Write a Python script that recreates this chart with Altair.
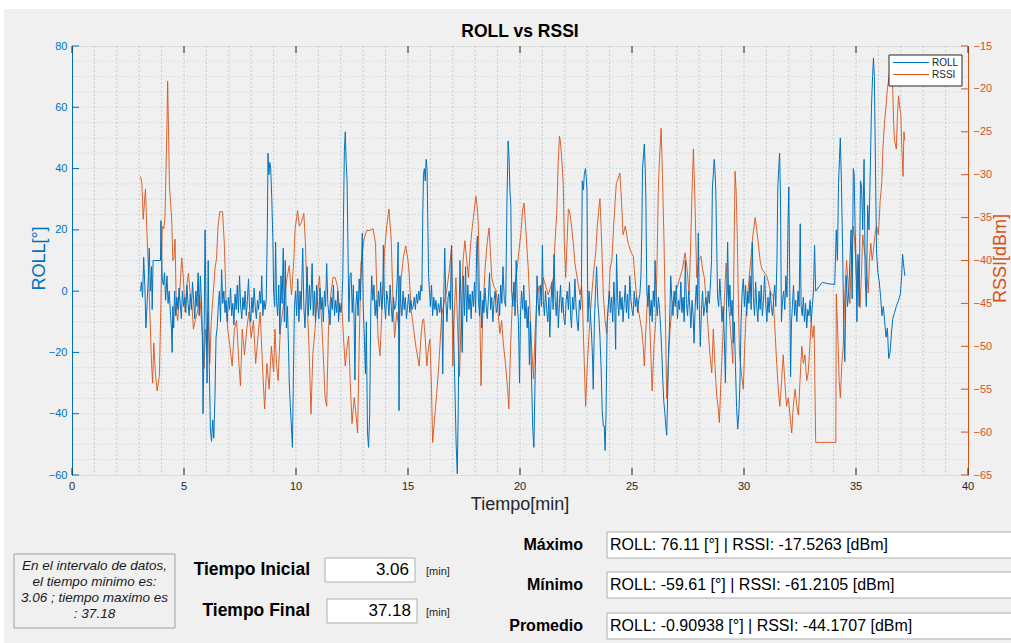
import altair as alt
import pandas as pd

BLUE = "#0072BD"
ORANGE = "#D95319"
FONT = "Liberation Sans"

# ---------------- data ----------------
roll_points = [
    (3.06,0),(3.1,3),(3.15,-2),(3.2,11),(3.25,2),(3.3,-12),(3.36,-3),(3.41,5),(3.45,14),(3.5,0),(3.55,8),(3.58,-6),(3.62,10),(3.95,10),(3.97,23),(4.0,12),(4.03,4),(4.08,2),(4.13,6),(4.18,-3),(4.24,5),(4.29,-4),(4.34,0),(4.4,-8),(4.44,-12),(4.47,-20),(4.5,-5),(4.54,-12),(4.58,0),(4.63,-8),(4.68,-2),
    (4.73,-6),(4.78,1),(4.83,-4),(4.88,-9),(4.93,0),(4.98,-5),(5.03,-2),(5.08,-7),(5.13,2),(5.18,-4),(5.23,-8),(5.28,-1),(5.33,-6),(5.38,3),(5.43,-3),(5.48,-9),(5.53,0),(5.58,-5),(5.63,6),(5.68,-8),(5.73,5),(5.78,-3),
    (5.82,-15),(5.85,-40),(5.89,-20),(5.94,20),(5.98,-5),(6.03,-30),(6.08,10),(6.13,-25),(6.18,-45),(6.23,-49),(6.28,-42),(6.33,-48),(6.38,-35),(6.43,-15),(6.48,-12),(6.53,-5),(6.58,0),(6.63,-10),(6.68,7),(6.73,-4),(6.78,0),
    (6.83,-7),(6.88,-3),(6.93,-10),(6.98,-2),(7.03,-6),(7.08,1),(7.13,-8),(7.18,-4),(7.23,-11),(7.28,-1),(7.33,-6),(7.38,2),(7.43,-7),(7.48,5),(7.53,-5),(7.58,-9),(7.63,-2),(7.68,-6),(7.73,0),(7.78,-8),(7.83,-3),(7.88,4),(7.93,-6),(7.98,-10),(8.03,-2),(8.08,-7),(8.13,1),(8.18,-5),(8.23,-9),(8.28,-3),(8.33,-6),(8.38,0),(8.43,-4),(8.47,5),(8.52,-8),(8.57,-3),(8.62,-6),(8.67,-3),
    (8.72,20),(8.75,45),(8.79,38),(8.83,42),(8.87,40),(8.92,30),(8.97,16),(9.0,0),(9.05,-5),(9.09,16),(9.13,-3),(9.18,-8),
    (9.23,2),(9.28,-14),(9.33,5),(9.38,-4),(9.43,14),(9.48,-10),(9.52,10),(9.57,-12),(9.62,-5),(9.67,-20),(9.7,-30),(9.75,-38),(9.8,-45),(9.84,-51),(9.88,-30),(9.93,-5),(9.98,0),(10.03,-8),(10.08,4),(10.13,-10),(10.18,0),(10.23,-6),(10.3,14),(10.35,-5),(10.4,-12),(10.45,-2),(10.5,8),(10.55,-8),(10.6,2),(10.65,-6),(10.72,9),(10.77,-8),(10.82,0),(10.87,-10),(10.92,2),(10.97,-5),(11.02,-9),(11.07,1),(11.12,-6),(11.17,-2),(11.22,-10),(11.27,0),(11.32,-5),(11.37,9),(11.42,-4),(11.47,-8),(11.52,-11),(11.57,-2),(11.62,-6),(11.67,2),(11.72,-8),(11.77,-3),(11.82,-7),(11.87,0),(11.9,-10),(11.95,-4),(12.0,-7),(12.04,-5),
    (12.09,5),(12.12,24),(12.16,46),(12.2,52),(12.24,42),(12.28,36),(12.32,15),(12.36,-10),(12.41,5),(12.46,6),(12.51,-7),(12.56,2),(12.6,-12),(12.63,-29),(12.67,-5),(12.72,0),(12.77,-8),(12.82,4),(12.87,-3),(12.92,8),(12.96,19),(13.0,-5),(13.05,-15),(13.1,-27),(13.14,-10),(13.19,-46),(13.24,-51),(13.29,-40),(13.34,-5),(13.38,5),(13.43,-3),(13.48,2),(13.53,-8),
    (13.58,-3),(13.63,-9),(13.68,0),(13.73,-5),(13.78,3),(13.83,-6),(13.88,-1),(13.9,15),(13.95,-4),(14.0,-9),(14.05,0),(14.1,-3),(14.15,-8),(14.2,2),(14.25,-5),(14.3,-10),(14.35,-2),(14.4,-6),(14.45,-5),(14.52,4),(14.56,16),(14.6,-39),(14.64,5),(14.68,-4),(14.73,-8),(14.78,0),(14.83,-6),(14.88,-2),(14.93,-9),(14.98,-5),(15.03,-1),(15.08,-7),(15.13,-3),(15.18,-6),(15.23,-5),(15.28,-2),(15.33,-6),(15.38,-1),(15.43,-4),(15.48,0),(15.53,-3),(15.58,2),(15.62,0),
    (15.66,25),(15.69,38),(15.73,40),(15.77,36),(15.81,43),(15.85,40),(15.89,20),(15.92,5),(15.96,0),(16.0,-5),(16.05,2),(16.1,-8),(16.15,-2),(16.2,-6),(16.25,-3),(16.3,-8),(16.36,-4),(16.42,-7),(16.47,-2),(16.52,-10),(16.55,-27),(16.59,-5),(16.64,14),(16.69,-3),(16.74,-10),(16.79,-2),(16.84,0),(16.89,-6),(16.94,15),(16.99,-5),(17.04,-15),(17.09,-30),(17.15,-50),(17.2,-59.61),(17.24,-40),(17.28,-10),(17.32,10),(17.37,-5),(17.42,-20),(17.47,5),(17.52,-8),(17.57,8),(17.62,-10),(17.67,2),(17.72,-6),(17.77,-1),(17.82,-9),(17.87,0),(17.92,-5),(17.97,3),(18.02,-7),(18.07,15),(18.1,18),(18.14,-2),(18.19,-8),(18.24,0),(18.29,-12),(18.34,-3),(18.39,-7),(18.44,1),(18.49,-5),(18.54,-9),(18.59,-2),(18.64,6),(18.69,-6),(18.74,-2),(18.79,-10),(18.84,-3),(18.89,0),(18.94,-7),(18.99,-5),(19.04,-1),(19.09,-8),(19.14,2),(19.19,-4),(19.24,8),(19.3,-3),(19.36,-5),
    (19.42,30),(19.47,49),(19.51,44),(19.55,33),(19.59,28),(19.63,0),(19.68,-5),(19.73,3),(19.78,-8),(19.83,10),(19.88,-4),(19.93,-10),(19.98,-30),(20.02,-8),(20.07,0),(20.12,-6),(20.17,2),(20.22,-9),(20.27,-3),(20.32,-12),(20.37,-5),(20.42,-24),(20.46,-10),(20.52,-30),(20.57,-45),(20.62,-51),(20.67,-30),(20.71,-15),(20.76,5),(20.81,-4),(20.86,-8),(20.91,2),(20.96,-5),(21.0,15),(21.04,-3),(21.09,-8),(21.14,0),(21.19,-6),(21.24,-10),(21.29,-2),(21.33,-15),(21.38,-4),(21.43,3),(21.48,-6),(21.52,12),(21.57,-3),(21.62,-8),(21.67,0),(21.71,-12),(21.76,-4),(21.81,2),(21.86,-7),(21.91,-2),(21.96,-9),(22.01,-11),(22.06,-3),(22.11,0),(22.16,-6),(22.21,3),(22.26,-8),(22.3,-12),(22.35,-2),(22.4,-6),(22.45,4),(22.5,-5),(22.55,-10),(22.6,-13),(22.65,-3),(22.7,-6),(22.74,0),
    (22.78,36),(22.83,33),(22.87,38),(22.92,40),(22.96,37),(22.99,33),(23.03,-10),(23.08,0),(23.13,-6),(23.18,-12),(23.23,-20),(23.27,-32),(23.32,-10),(23.37,0),(23.42,8),(23.47,-3),(23.52,-8),(23.57,-15),(23.62,-25),(23.67,-39),(23.72,-44),(23.76,-44),(23.8,-52),(23.84,-40),(23.89,-10),(23.94,-5),(23.99,0),(24.04,-7),(24.09,-2),(24.14,-10),(24.19,3),(24.23,-5),(24.27,-19),(24.31,12),(24.36,-3),(24.41,-8),(24.46,0),(24.51,-6),(24.56,-2),(24.6,-10),(24.65,-4),(24.7,2),(24.75,-7),(24.8,-1),(24.85,-9),(24.9,5),(24.95,-3),(25.0,-6),(25.05,-8),(25.1,0),(25.15,-5),(25.2,-2),(25.25,-7),(25.3,-3),(25.35,-1),(25.4,5),
    (25.44,20),(25.47,40),(25.51,44),(25.55,48),(25.59,40),(25.62,30),(25.66,0),(25.71,-5),(25.76,2),(25.81,-8),(25.86,-3),(25.9,-10),(25.95,0),(26.0,-5),(26.03,10),(26.08,-3),(26.13,-8),(26.18,-2),(26.23,-6),(26.28,-12),(26.33,-20),(26.38,-30),(26.42,-36),(26.47,-40),(26.51,-44),(26.55,-47),(26.59,-35),(26.63,-20),(26.68,-10),(26.73,5),(26.78,-3),(26.83,-8),(26.88,0),(26.93,-5),(26.98,2),(27.03,-9),(27.08,-3),(27.13,-6),(27.18,3),(27.23,-7),(27.28,-2),(27.33,-10),(27.38,10),(27.43,-4),(27.48,-8),(27.53,0),(27.58,-5),(27.63,-12),(27.68,-3),(27.73,-8),(27.77,-17),(27.82,-5),(27.87,2),(27.92,-6),(27.96,19),(28.0,-3),(28.05,-18),(28.1,-6),(28.15,0),(28.2,-8),(28.25,-5),(28.3,-2),(28.35,-7),(28.4,0),(28.45,-4),(28.5,2),(28.55,10),
    (28.59,34),(28.63,38),(28.67,43),(28.7,40),(28.74,33),(28.78,16),(28.82,-2),(28.87,-5),(28.92,4),(28.97,-3),(29.02,-10),(29.07,-5),(29.12,-15),(29.17,-30),(29.22,-5),(29.27,16),(29.32,-5),(29.37,2),(29.42,-8),(29.47,-3),(29.52,-17),(29.57,-10),(29.62,-25),(29.67,-38),(29.72,-45),(29.77,-40),(29.82,-30),(29.87,-10),(29.92,0),(29.97,4),(30.02,-5),(30.07,2),(30.12,-8),(30.17,0),(30.22,-4),(30.27,5),(30.32,-6),(30.37,16),(30.42,-2),(30.47,-8),(30.52,3),(30.57,-5),(30.62,-10),(30.67,0),(30.72,-6),(30.77,2),(30.82,-8),(30.87,-3),(30.92,5),(30.97,-4),(31.02,-10),(31.07,-2),(31.12,-7),(31.17,0),(31.22,-5),(31.27,-8),(31.32,-3),(31.37,2),(31.42,-5),(31.47,10),
    (31.51,34),(31.55,40),(31.59,45),(31.63,30),(31.67,-10),(31.72,-3),(31.77,0),(31.82,-6),(31.87,5),(31.92,-2),(31.96,20),(32.0,34),(32.04,5),(32.08,-28),(32.12,-10),(32.16,-5),(32.21,2),(32.26,-8),(32.31,-3),(32.36,-10),(32.41,0),(32.46,-5),(32.51,22),(32.55,-5),(32.6,-8),(32.65,-2),(32.7,-10),(32.75,-4),(32.8,-12),(32.85,-6),(32.9,-8),(32.95,-3),(33.0,-10),(33.05,-5),(33.1,0),(33.15,15),(33.2,0),
    (33.35,1.5),(33.5,2.9),(33.75,2.4),(34.05,2.2),
    (34.12,20),(34.17,10),(34.22,35),(34.26,43),(34.3,50),(34.35,35),(34.4,15),(34.45,-10),(34.5,-23),(34.56,5),(34.62,-5),(34.68,0),(34.73,10),(34.78,20),(34.83,-2.5),(34.88,40),(34.92,38),(34.96,20),(35.0,10),(35.04,-10),(35.09,12),(35.14,-5),(35.2,36),(35.25,34),(35.3,20),(35.36,43),(35.41,5),(35.46,-5),(35.52,28),(35.58,20),(35.64,40),(35.69,60),(35.74,70),(35.78,76.11),(35.82,70),(35.87,40),(35.92,12),(35.98,6),(36.04,3),(36.1,-2),(36.16,-8),(36.22,-5),(36.28,-10),(36.34,-15),(36.4,-12),(36.46,-22),(36.52,-20),(36.58,-14),(36.64,-9),(36.72,-7),(36.8,-5),(36.9,-3),(36.98,-1),(37.04,5),(37.08,12),(37.12,9),(37.18,5),
]

rssi_points = [
    (3.06,-30.2),(3.12,-31),(3.18,-35.2),(3.24,-33),(3.28,-31.7),(3.35,-37),(3.45,-44),(3.55,-52),(3.6,-54.3),(3.65,-49.6),(3.72,-53),(3.8,-55.2),(3.9,-53.5),(3.97,-45),(4.03,-36),(4.1,-36.3),(4.15,-35),(4.2,-29),(4.24,-24),(4.27,-19.1),(4.31,-25),(4.35,-31.3),(4.45,-35.2),(4.5,-40),(4.55,-39.8),(4.6,-37.5),(4.66,-46),(4.72,-47),(4.8,-44),(4.9,-39.7),(4.97,-42),(5.05,-46),(5.12,-43),(5.2,-41.5),(5.28,-44),(5.35,-45),(5.42,-48),(5.5,-47),(5.6,-46),(5.7,-44),(5.78,-47),(5.85,-50),(5.9,-52.6),(5.95,-48),(6.0,-50),(6.08,-46),(6.15,-52),(6.22,-47),(6.3,-44),(6.38,-41),(6.45,-39.8),(6.52,-36),(6.6,-34.3),(6.72,-34.3),(6.8,-38),(6.88,-45),(6.95,-48),(7.05,-50),(7.15,-52.3),(7.25,-48),(7.35,-47),(7.45,-52),(7.52,-54.6),(7.6,-48),(7.7,-51),(7.8,-48),(7.9,-46),(8.0,-49),(8.1,-47),(8.2,-52),(8.3,-49),(8.4,-46),(8.5,-52),(8.6,-57.3),(8.7,-52),(8.8,-55),(8.9,-50),(9.0,-53),
    (9.06,-48),(9.13,-52),(9.2,-54),(9.3,-48),(9.4,-46),(9.5,-44),(9.6,-42),(9.7,-40.6),(9.8,-44),(9.9,-40),(9.96,-36.3),(10.07,-34.2),(10.15,-36),(10.25,-35.5),(10.35,-34.5),(10.42,-38),(10.5,-45),(10.58,-50),(10.67,-57.9),(10.75,-51),(10.85,-48),(10.95,-44),(11.05,-41.8),(11.12,-46),(11.2,-50),(11.3,-56),(11.37,-57),(11.45,-48),(11.55,-44),(11.65,-42),(11.75,-42),(11.85,-43),(11.95,-46),(12.04,-45),(12.12,-49),(12.2,-52.3),(12.28,-50),(12.35,-48.8),(12.42,-54),(12.5,-59),(12.6,-56),(12.68,-58),(12.75,-60.1),(12.82,-50),(12.9,-40.3),(12.97,-39),(13.04,-37.5),(13.15,-36.5),(13.3,-36.5),(13.44,-36.3),(13.55,-38),(13.66,-48.8),(13.75,-51.1),(13.85,-45),(13.95,-39),(14.05,-36),(14.15,-34),(14.25,-37.5),(14.32,-44),(14.4,-49),(14.5,-46),(14.6,-48),(14.7,-42),(14.8,-39.5),(14.9,-38.3),(15.0,-40),(15.05,-41.5),(15.15,-46),(15.25,-48),(15.35,-50),(15.5,-52.3),(15.58,-48.8),(15.65,-47),
    (15.7,-46.8),(15.77,-49),(15.84,-52.3),(15.92,-50),(15.98,-49.2),(16.05,-55),(16.1,-61.21),(16.2,-58),(16.28,-55.5),(16.38,-52),(16.5,-46.5),(16.6,-45),(16.73,-43.5),(16.85,-41),(16.95,-38.3),(17.0,-52.3),(17.07,-46),(17.14,-42),(17.22,-48),(17.3,-53.5),(17.38,-46),(17.46,-40),(17.54,-37.7),(17.62,-40),(17.7,-42),(17.77,-39),(17.84,-36.8),(17.92,-35),(18.03,-32.5),(18.1,-34),(18.14,-36),(18.2,-45),(18.26,-54.6),(18.33,-47),(18.44,-41),(18.53,-38),(18.62,-36.2),(18.68,-39),(18.74,-42),(18.83,-43),(18.93,-43.5),(19.02,-46),(19.1,-48.5),(19.18,-47),(19.25,-49.5),(19.35,-52),(19.45,-55),(19.5,-57.3),(19.58,-50),(19.67,-44),(19.76,-43),(19.85,-41.5),(19.95,-39),(20.05,-36.5),(20.12,-34),(20.18,-33.3),(20.25,-36),(20.37,-41),(20.45,-46),(20.52,-50),(20.6,-53.8),(20.68,-48),(20.74,-45),(20.85,-43),(20.95,-44),(21.04,-42),(21.15,-43),(21.26,-44),(21.38,-43),(21.49,-42),(21.56,-38),(21.64,-34.5),(21.7,-29),(21.76,-25.5),(21.8,-26),(21.86,-28),(21.93,-31),(21.98,-38),(22.04,-42),
    (22.1,-38),(22.16,-34),(22.23,-34.5),(22.3,-36),(22.38,-38),(22.45,-40.3),(22.55,-42),(22.68,-44),(22.75,-43),(22.8,-46),(22.87,-52),(22.93,-57),(22.99,-53),(23.05,-50),(23.12,-47),(23.2,-44),(23.3,-41),(23.38,-39.1),(23.45,-36),(23.52,-34),(23.57,-32.8),(23.62,-36),(23.67,-40),(23.72,-44),(23.8,-47),(23.87,-48.5),(23.95,-45),(24.02,-41),(24.1,-40),(24.18,-36),(24.25,-33),(24.3,-31),(24.38,-30.5),(24.46,-29.8),(24.53,-33),(24.6,-37),(24.7,-36),(24.83,-38),(24.95,-39),(25.06,-39.5),(25.13,-42),(25.2,-44),(25.3,-46),(25.43,-48),(25.5,-50),(25.55,-52.3),(25.62,-48),(25.68,-45),(25.73,-43),(25.8,-48),(25.9,-55.2),(25.98,-50),(26.06,-47),(26.12,-40),(26.17,-32.1),(26.23,-28),(26.3,-24.6),(26.36,-30),(26.43,-38),(26.5,-48),(26.55,-56.1),(26.62,-52),(26.7,-48),(26.8,-45),(26.92,-44),(27.03,-43),(27.14,-42),(27.25,-41),(27.37,-39.1),(27.46,-41),(27.55,-44),(27.62,-38),(27.68,-32),(27.74,-27),(27.8,-32),(27.89,-42),(27.98,-40),(28.08,-39.5),(28.15,-41),(28.23,-42),(28.32,-45),(28.4,-48),(28.48,-51),
    (28.56,-53.1),(28.63,-48),(28.7,-52),(28.78,-55.8),(28.84,-57),(28.9,-58.9),(28.97,-54),(29.04,-50),(29.12,-45),(29.2,-40.3),(29.28,-44),(29.37,-47),(29.45,-50),(29.5,-52),(29.55,-40),(29.6,-29.6),(29.65,-32),(29.7,-37),(29.75,-45),(29.8,-51),(29.88,-53),(29.97,-55),(30.03,-50),(30.1,-46),(30.2,-43),(30.3,-40),(30.4,-37),(30.5,-35),(30.57,-36.5),(30.64,-38),(30.72,-40),(30.8,-41),(30.94,-41.5),(31.04,-42),(31.13,-43),(31.22,-44),(31.3,-44),(31.38,-48),(31.46,-52),(31.53,-55),(31.6,-57),(31.68,-54),(31.75,-51),(31.82,-54),(31.9,-57),(31.98,-56),(32.05,-58),(32.13,-60.1),(32.2,-57),(32.28,-55),(32.36,-57),(32.43,-58),(32.5,-54),(32.58,-50),(32.65,-52),(32.72,-51),(32.8,-54),(32.87,-53),(32.94,-50),(33.0,-47),(33.07,-49),(33.13,-47.6),(33.2,-61.2),(34.1,-61.2),
    (34.12,-43.9),(34.18,-48),(34.25,-54),(34.3,-56),(34.37,-52),(34.43,-50),(34.5,-44),(34.58,-40),(34.65,-43),(34.73,-45),(34.8,-39),(34.88,-36),(34.95,-38),(35.03,-43),(35.1,-40),(35.18,-45.5),(35.25,-41),(35.3,-37),(35.38,-39),(35.45,-40),(35.5,-42),(35.55,-43.8),(35.6,-40),(35.66,-38),(35.72,-40),(35.77,-39),(35.85,-37),(35.92,-36),(36.0,-37),(36.08,-33),(36.15,-31),(36.2,-27),(36.27,-24),(36.34,-22),(36.4,-20),(36.44,-19.3),(36.5,-18),(36.55,-17.53),(36.6,-19),(36.64,-20),(36.68,-24),(36.72,-26),(36.8,-27),(36.85,-23),(36.9,-20.8),(36.95,-22),(37.0,-23),(37.05,-27),(37.1,-30.2),(37.14,-25),(37.18,-26),
]

x_major = [0, 5, 10, 15, 20, 25, 30, 35, 40]
x_minor = list(range(0, 41))
roll_major = [-60, -40, -20, 0, 20, 40, 60, 80]
roll_minor = list(range(-60, 81, 5))
rssi_major = [-65, -60, -55, -50, -45, -40, -35, -30, -25, -20, -15]

title_text = "ROLL vs RSSI"
info_lines = ["En el intervalo de datos,", "el tiempo minimo es:", "3.06 ; tiempo maximo es", ":  37.18"]
t_ini, t_fin = "3.06", "37.18"
stat_labels = ["Máximo", "Mínimo", "Promedio"]
stat_texts = [
    "ROLL: 76.11 [°] | RSSI: -17.5263 [dBm]",
    "ROLL: -59.61 [°] | RSSI: -61.2105 [dBm]",
    "ROLL: -0.90938 [°] | RSSI: -44.1707 [dBm]",
]

roll_df = pd.DataFrame(roll_points, columns=["t", "roll"])
rssi_df = pd.DataFrame(rssi_points, columns=["t", "rssi"])
one = pd.DataFrame({"a": [0]})

W, H = 896, 429
xs = alt.Scale(domain=[0, 40], nice=False, zero=False)
ys_roll = alt.Scale(domain=[-60, 80], nice=False, zero=False)
ys_rssi = alt.Scale(domain=[-65, -15], nice=False, zero=False)

layers = []

# white strips at the very top/left of the figure
layers.append(alt.Chart(one).mark_rect(color="white").encode(
    x=alt.value(-72), x2=alt.value(W + 43), y=alt.value(-46), y2=alt.value(-37)))
layers.append(alt.Chart(one).mark_rect(color="white").encode(
    x=alt.value(-72), x2=alt.value(-68), y=alt.value(-46), y2=alt.value(H + 168)))

# grids
layers.append(alt.Chart(pd.DataFrame({"g": x_minor[1:-1]})).mark_rule(
    color="#262626", opacity=0.18, strokeDash=[2, 2], strokeWidth=1).encode(
    x=alt.X("g:Q", scale=xs, axis=None)))
layers.append(alt.Chart(pd.DataFrame({"g": roll_minor[1:-1]})).mark_rule(
    color=BLUE, opacity=0.22, strokeDash=[1, 2], strokeWidth=1).encode(
    y=alt.Y("g:Q", scale=ys_roll, axis=None)))

# series
layers.append(alt.Chart(rssi_df).mark_line(color=ORANGE, strokeWidth=1, opacity=0.9).encode(
    x=alt.X("t:Q", scale=xs, axis=None),
    y=alt.Y("rssi:Q", scale=ys_rssi, title=None,
            axis=alt.Axis(orient="right", values=rssi_major, labelColor=ORANGE, domainColor=ORANGE,
                          ticks=False, grid=False, labelFontSize=11, labelPadding=5, labelFont=FONT))))
layers.append(alt.Chart(roll_df).mark_line(color=BLUE, strokeWidth=1).encode(
    x=alt.X("t:Q", scale=xs, axis=None),
    y=alt.Y("roll:Q", scale=ys_roll, title=None,
            axis=alt.Axis(orient="left", values=roll_major, labelColor=BLUE, domainColor=BLUE,
                          ticks=False, grid=False, labelFontSize=11, labelPadding=5, labelFont=FONT))))

# inside tick marks and x tick labels
xt = pd.DataFrame({"g": x_major})
layers.append(alt.Chart(xt).mark_rule(color="#262626", strokeWidth=1).encode(
    x=alt.X("g:Q", scale=xs, axis=None), y=alt.value(H - 7), y2=alt.value(H)))
layers.append(alt.Chart(xt).mark_rule(color="#262626", strokeWidth=1).encode(
    x=alt.X("g:Q", scale=xs, axis=None), y=alt.value(0), y2=alt.value(7)))
layers.append(alt.Chart(xt).mark_text(baseline="top", align="center", fontSize=11, font=FONT,
                                       color="#262626").encode(
    x=alt.X("g:Q", scale=xs, axis=None), y=alt.value(H + 6), text="g:Q"))
layers.append(alt.Chart(pd.DataFrame({"g": roll_major})).mark_rule(color=BLUE, strokeWidth=1).encode(
    y=alt.Y("g:Q", scale=ys_roll, axis=None), x=alt.value(0), x2=alt.value(7)))
layers.append(alt.Chart(pd.DataFrame({"g": rssi_major})).mark_rule(color=ORANGE, strokeWidth=1).encode(
    y=alt.Y("g:Q", scale=ys_rssi, axis=None), x=alt.value(W - 7), x2=alt.value(W)))

# legend
layers.append(alt.Chart(one).mark_rect(fill="white", stroke="#262626", strokeWidth=1).encode(
    x=alt.value(817), x2=alt.value(890), y=alt.value(9), y2=alt.value(40)))
layers.append(alt.Chart(one).mark_rule(color=BLUE, strokeWidth=1).encode(
    x=alt.value(821), x2=alt.value(857), y=alt.value(16.5)))
layers.append(alt.Chart(one).mark_rule(color=ORANGE, strokeWidth=1).encode(
    x=alt.value(821), x2=alt.value(857), y=alt.value(28.5)))
for lab, yy in [("ROLL", 17), ("RSSI", 29)]:
    layers.append(alt.Chart(one).mark_text(text=lab, align="left", baseline="middle", fontSize=10,
                                            font=FONT, color="#262626").encode(
        x=alt.value(860), y=alt.value(yy)))

# title, axis titles
layers.append(alt.Chart(one).mark_text(text=title_text, align="center", baseline="middle", fontSize=17.5,
                                        fontWeight="bold", font=FONT, color="#000000").encode(
    x=alt.value(W / 2), y=alt.value(-14)))
layers.append(alt.Chart(one).mark_text(text="ROLL[°]", align="center", baseline="middle", fontSize=18,
                                        angle=270, font=FONT, color=BLUE).encode(
    x=alt.value(-32), y=alt.value(H / 2 - 2)))
layers.append(alt.Chart(one).mark_text(text="RSSI[dBm]", align="center", baseline="middle", fontSize=18,
                                        angle=270, font=FONT, color=ORANGE).encode(
    x=alt.value(929), y=alt.value(H / 2 - 2)))
layers.append(alt.Chart(one).mark_text(text="Tiempo[min]", align="center", baseline="middle", fontSize=18,
                                        font=FONT, color="#262626").encode(
    x=alt.value(W / 2), y=alt.value(459)))

# ---------------- bottom panel ----------------
layers.append(alt.Chart(one).mark_rect(fill="#f0f0f0", stroke="#a0a0a0", strokeWidth=1).encode(
    x=alt.value(-58), x2=alt.value(103), y=alt.value(508), y2=alt.value(582)))
for i, line in enumerate(info_lines):
    layers.append(alt.Chart(one).mark_text(text=line, align="center", baseline="middle", fontSize=13.5,
                                            fontStyle="italic", font=FONT, color="#1a1a1a").encode(
        x=alt.value(22.5), y=alt.value(520 + 16 * i)))

for lab, val, yc, bx in [("Tiempo Inicial", t_ini, 524, 253), ("Tiempo Final", t_fin, 565, 255)]:
    layers.append(alt.Chart(one).mark_text(text=lab, align="right", baseline="middle", fontSize=17.5,
                                            fontWeight="bold", font=FONT, color="#000000").encode(
        x=alt.value(238), y=alt.value(yc)))
    layers.append(alt.Chart(one).mark_rect(fill="white", stroke="#adadad", strokeWidth=1).encode(
        x=alt.value(bx), x2=alt.value(bx + 90), y=alt.value(yc - 12), y2=alt.value(yc + 12)))
    layers.append(alt.Chart(one).mark_text(text=val, align="right", baseline="middle", fontSize=17,
                                            font=FONT, color="#000000").encode(
        x=alt.value(bx + 84), y=alt.value(yc)))
    layers.append(alt.Chart(one).mark_text(text="[min]", align="left", baseline="middle", fontSize=11,
                                            font=FONT, color="#262626").encode(
        x=alt.value(354), y=alt.value(yc + 2)))

for lab, txt, yc in zip(stat_labels, stat_texts, [499, 539, 580]):
    layers.append(alt.Chart(one).mark_text(text=lab, align="right", baseline="middle", fontSize=16,
                                            fontWeight="bold", font=FONT, color="#000000").encode(
        x=alt.value(511), y=alt.value(yc)))
    layers.append(alt.Chart(one).mark_rect(fill="white", stroke="#adadad", strokeWidth=1).encode(
        x=alt.value(535), x2=alt.value(945), y=alt.value(yc - 13), y2=alt.value(yc + 13)))
    layers.append(alt.Chart(one).mark_text(text=txt, align="left", baseline="middle", fontSize=16,
                                            font=FONT, color="#000000").encode(
        x=alt.value(538), y=alt.value(yc)))

chart = alt.layer(*layers).resolve_scale(y="independent").properties(
    width=W, height=H,
    autosize=alt.AutoSizeParams(type="none"),
    padding={"left": 72, "top": 46, "right": 43, "bottom": 168},
    background="#f0f0f0",
).configure_view(fill="white", stroke="#8a8a8a", strokeWidth=1).configure(font=FONT)

chart.save("out.html", embed_options={"renderer": "svg", "actions": False})
